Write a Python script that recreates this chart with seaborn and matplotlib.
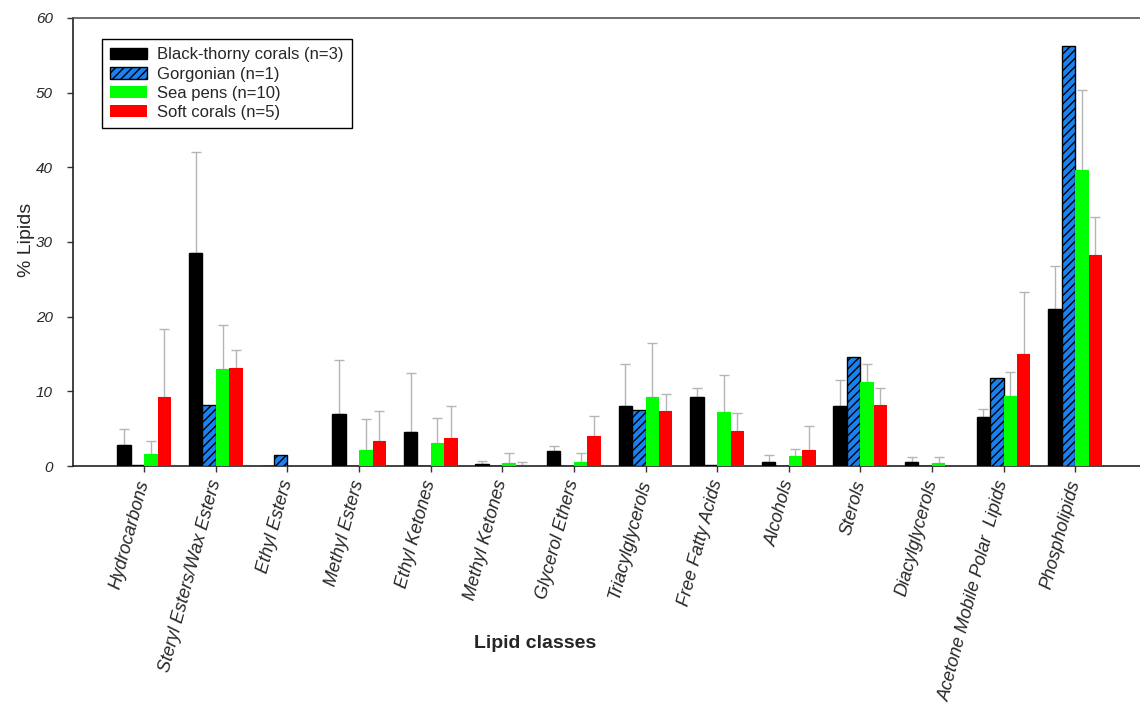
import numpy as np
import pandas as pd
import matplotlib
matplotlib.use("Agg")
import matplotlib.pyplot as plt
from matplotlib.patches import Patch
import seaborn as sns

# Lipid class composition (% of total lipids) by coral group
classes = ["Hydrocarbons", "Steryl Esters/Wax Esters", "Ethyl Esters", "Methyl Esters",
           "Ethyl Ketones", "Methyl Ketones", "Glycerol Ethers", "Triacylglycerols",
           "Free Fatty Acids", "Alcohols", "Sterols", "Diacylglycerols",
           "Acetone Mobile Polar  Lipids", "Phospholipids"]
groups = ["Black-thorny corals (n=3)", "Gorgonian (n=1)", "Sea pens (n=10)", "Soft corals (n=5)"]

black_mean = [2.8, 28.5, 0.0, 6.9, 4.5, 0.3, 2.0, 8.1, 9.3, 0.6, 8.1, 0.5, 6.5, 21.0]
black_sd = [2.1, 13.6, 0.0, 7.3, 7.9, 0.4, 0.7, 5.5, 1.1, 0.9, 3.4, 0.7, 1.2, 5.8]
gorgonian_mean = [0.15, 8.2, 1.5, 0.0, 0.0, 0.0, 0.0, 7.5, 0.2, 0.0, 14.6, 0.0, 11.8, 56.2]
gorgonian_sd = [0.0] * 14
seapen_mean = [1.6, 13.0, 0.0, 2.1, 3.1, 0.45, 0.6, 9.25, 7.2, 1.4, 11.25, 0.35, 9.4, 39.7]
seapen_sd = [1.8, 5.9, 0.0, 4.2, 3.3, 1.35, 1.2, 7.25, 5.0, 0.9, 2.35, 0.85, 3.2, 10.6]
soft_mean = [9.3, 13.1, 0.0, 3.4, 3.8, 0.2, 4.0, 7.3, 4.65, 2.2, 8.2, 0.0, 15.05, 28.3]
soft_sd = [9.1, 2.5, 0.0, 3.9, 4.3, 0.3, 2.7, 2.4, 2.45, 3.1, 2.2, 0.0, 8.25, 5.0]

colors = ["#000000", "#1a82f0", "#00ff00", "#ff0000"]

means = [black_mean, gorgonian_mean, seapen_mean, soft_mean]
sds = [black_sd, gorgonian_sd, seapen_sd, soft_sd]

df = pd.DataFrame({
    "Lipid class": np.tile(classes, len(groups)),
    "Group": np.repeat(groups, len(classes)),
    "Value": np.concatenate(means),
})

sns.set_style("ticks")
plt.rcParams["font.family"] = ["Liberation Sans", "DejaVu Sans"]
plt.rcParams["hatch.linewidth"] = 1.0

fig = plt.figure(figsize=(11.4, 7.05), dpi=100)
ax = fig.add_axes([0.064, 0.339, 0.936, 0.6355])

sns.barplot(data=df, x="Lipid class", y="Value", hue="Group", order=classes,
            hue_order=groups, palette=colors, errorbar=None, width=0.75,
            saturation=1, linewidth=0, legend=False, ax=ax, zorder=3)

# styling per group and one-sided (upper) error bars
bar_containers = list(ax.containers)
for gi, cont in enumerate(bar_containers):
    xs, ys, es = [], [], []
    for bi, patch in enumerate(cont.patches):
        if gi in (0, 1):
            patch.set_edgecolor("black")
            patch.set_linewidth(1.0)
        if gi == 1:
            patch.set_hatch("////")
        err = sds[gi][bi]
        if err > 0:
            xs.append(patch.get_x() + patch.get_width() / 2)
            ys.append(means[gi][bi])
            es.append(err)
    if xs:
        ax.errorbar(xs, ys, yerr=[np.zeros(len(es)), es], fmt="none",
                    ecolor="#b5b5b5", elinewidth=1.0, capsize=3.3,
                    capthick=1.0, zorder=2)

ax.set_xlim(-0.996, 13.906)
ax.set_ylim(0, 60)
ax.set_yticks(np.arange(0, 61, 10))
ax.set_yticklabels([str(v) for v in range(0, 61, 10)], fontstyle="italic", fontsize=11)
ax.set_xticks(range(len(classes)))
ax.set_xticklabels(classes, rotation=75, ha="right", va="center",
                   rotation_mode="anchor", fontstyle="italic", fontsize=13)
ax.tick_params(axis="x", length=4.3, width=1, pad=6, color="#333333")
ax.tick_params(axis="y", length=4.3, width=1, pad=10, color="#333333")

ax.set_xlabel("Lipid classes", fontsize=14, fontweight="bold")
ax.xaxis.set_label_coords(0.433, -0.377)
ax.set_ylabel("% Lipids", fontsize=14)
ax.yaxis.set_label_coords(-0.036, 0.504)

ax.spines["right"].set_visible(False)
for s in ("left", "bottom"):
    ax.spines[s].set_color("#222222")
    ax.spines[s].set_linewidth(1.2)
ax.spines["top"].set_color("#555555")
ax.spines["top"].set_linewidth(1.2)

handles = [
    Patch(facecolor=colors[0], edgecolor="black", linewidth=1.0),
    Patch(facecolor=colors[1], edgecolor="black", linewidth=1.0, hatch="////"),
    Patch(facecolor=colors[2], edgecolor=colors[2], linewidth=0),
    Patch(facecolor=colors[3], edgecolor=colors[3], linewidth=0),
]
leg = ax.legend(handles, groups, loc="upper left", bbox_to_anchor=(0.027, 0.953),
                borderaxespad=0, fontsize=12, frameon=True, fancybox=False,
                edgecolor="black", framealpha=1, handlelength=2.24,
                handleheight=0.72, handletextpad=0.56, labelspacing=0.25,
                borderpad=0.5)
leg.get_frame().set_linewidth(1.0)

fig.savefig("out.png", dpi=100)
